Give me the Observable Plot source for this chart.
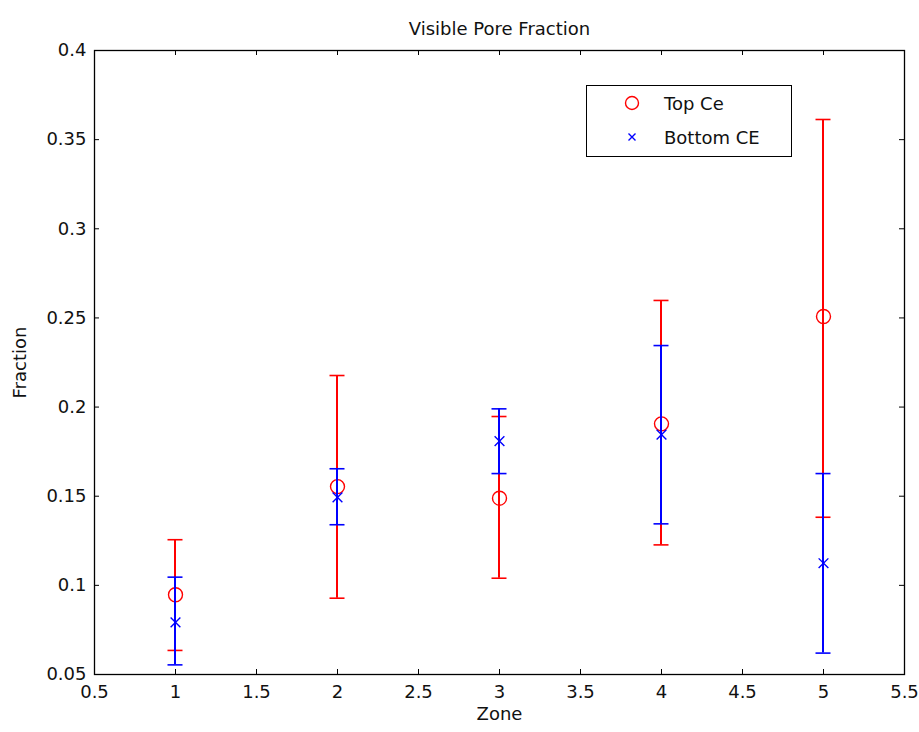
<!DOCTYPE html>
<html>
<head>
<meta charset="utf-8">
<script src="https://cdn.jsdelivr.net/npm/d3@7"></script>
<script src="https://cdn.jsdelivr.net/npm/@observablehq/plot@0.6"></script>
<style>
  html, body { margin: 0; padding: 0; background: #fff; }
  #wrap { position: relative; width: 919px; height: 732px; }
  #legend { position: absolute; left: 586px; top: 85px; width: 204px; height: 70px;
    border: 1px solid #000; background: #fff; font-family: "DejaVu Sans", sans-serif; font-size: 18px; color: #111; }
  #legend .row { position: absolute; left: 0; height: 30px; display: flex; align-items: center; }
  #legend svg { margin-left: 37px; margin-right: 24px; }
</style>
</head>
<body>
<div id="wrap"></div>
<script>
const zones = [1, 2, 3, 4, 5];
const topMean = [0.0947, 0.1554, 0.1489, 0.1906, 0.2508];
const topLow  = [0.0635, 0.0928, 0.1040, 0.1227, 0.1382];
const topHigh = [0.1256, 0.2177, 0.1947, 0.2598, 0.3613];
const botMean = [0.0793, 0.1494, 0.1809, 0.1846, 0.1124];
const botLow  = [0.0554, 0.1340, 0.1627, 0.1345, 0.0620];
const botHigh = [0.1046, 0.1654, 0.1990, 0.2345, 0.1627];
const xTicks = [0.5, 1, 1.5, 2, 2.5, 3, 3.5, 4, 4.5, 5, 5.5];
const yTicks = [0.05, 0.1, 0.15, 0.2, 0.25, 0.3, 0.35, 0.4];
const yTickLabels = ["0.05", "0.1", "0.15", "0.2", "0.25", "0.3", "0.35", "0.4"];
const seriesNames = ["Top Ce", "Bottom CE"];
const title = "Visible Pore Fraction";
const xLabel = "Zone";
const yLabel = "Fraction";

const topData = zones.map((z, i) => ({x: z, m: topMean[i], lo: topLow[i], hi: topHigh[i]}));
const botData = zones.map((z, i) => ({x: z, m: botMean[i], lo: botLow[i], hi: botHigh[i]}));
const RED = "#ff0000", BLUE = "#0000ff";
const yMin = yTicks[0], yMax = yTicks[yTicks.length - 1];
const xMin = xTicks[0], xMax = xTicks[xTicks.length - 1];
const cap = -7.5;

function errMarks(data, color) {
  return [
    Plot.ruleX(data, {x: "x", y1: "lo", y2: "hi", stroke: color, strokeWidth: 2, dx: -0.5}),
    Plot.ruleY(data, {y: "hi", x1: "x", x2: "x", insetLeft: cap, insetRight: cap, stroke: color, strokeWidth: 1.6}),
    Plot.ruleY(data, {y: "lo", x1: "x", x2: "x", insetLeft: cap, insetRight: cap, stroke: color, strokeWidth: 1.6})
  ];
}

const chart = Plot.plot({
  width: 919,
  height: 732,
  marginLeft: 94,
  marginRight: 15,
  marginTop: 50,
  marginBottom: 58,
  style: {fontFamily: "DejaVu Sans, sans-serif", fontSize: "18px", background: "#fff", color: "#111"},
  x: {domain: [xMin, xMax]},
  y: {domain: [yMin, yMax]},
  marks: [
    Plot.axisX(xTicks, {tickSize: 0, tickPadding: 11, tickFormat: d => String(d), label: null}),
    Plot.axisY(yTicks, {tickSize: 0, tickPadding: 8, tickFormat: (d, i) => yTickLabels[i], label: null}),
    // inward ticks on all four sides
    Plot.ruleX(xTicks, {x: d => d, y1: yMin, y2: yMin, insetTop: -5, stroke: "#000"}),
    Plot.ruleX(xTicks, {x: d => d, y1: yMax, y2: yMax, insetBottom: -5, stroke: "#000"}),
    Plot.ruleY(yTicks, {y: d => d, x1: xMin, x2: xMin, insetRight: -5, stroke: "#000"}),
    Plot.ruleY(yTicks, {y: d => d, x1: xMax, x2: xMax, insetLeft: -5, stroke: "#000"}),
    Plot.frame({stroke: "#000", strokeWidth: 1.3}),
    ...errMarks(topData, RED),
    Plot.dot(topData, {x: "x", y: "m", r: 7, stroke: RED, fill: "none", strokeWidth: 1.4}),
    ...errMarks(botData, BLUE),
    Plot.dot(botData, {x: "x", y: "m", symbol: "times", r: 4.5, stroke: BLUE, strokeWidth: 1.4}),
    Plot.text([title], {frameAnchor: "top", dy: -28, text: d => d, fontSize: 18, fill: "#111"}),
    Plot.text([xLabel], {frameAnchor: "bottom", dy: 45, text: d => d, fontSize: 18, fill: "#111"}),
    Plot.text([yLabel], {frameAnchor: "left", dx: -74, rotate: -90, textAnchor: "middle", text: d => d, fontSize: 18, fill: "#111"})
  ]
});

const wrap = document.getElementById("wrap");
wrap.appendChild(chart);

const legend = document.createElement("div");
legend.id = "legend";
const iconSvgs = [
  `<svg width="16" height="16" viewBox="-8 -8 16 16"><circle r="6.5" fill="none" stroke="${RED}" stroke-width="1.4"/></svg>`,
  `<svg width="16" height="16" viewBox="-8 -8 16 16"><path d="M-3.5,-3.5L3.5,3.5M-3.5,3.5L3.5,-3.5" stroke="${BLUE}" stroke-width="1.4"/></svg>`
];
seriesNames.forEach((name, i) => {
  const row = document.createElement("div");
  row.className = "row";
  row.style.top = (i === 0 ? 2 : 36) + "px";
  row.innerHTML = iconSvgs[i] + `<span>${name}</span>`;
  legend.appendChild(row);
});
wrap.appendChild(legend);
</script>
</body>
</html>
